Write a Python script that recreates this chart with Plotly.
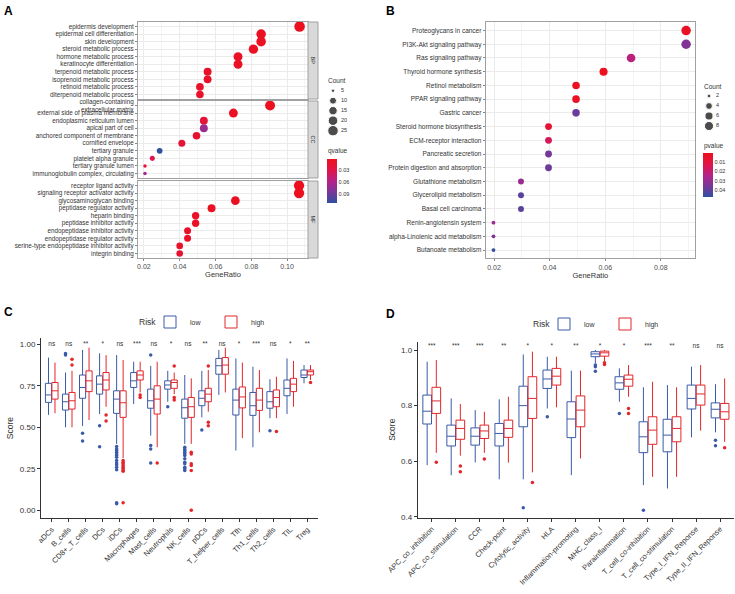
import numpy as np
import plotly.graph_objects as go

W, H = 735, 594
FONT = 'Liberation Sans, Arial, sans-serif'

# ---------------- panel A: GO enrichment ----------------
bp_terms = ['epidermis development', 'epidermal cell differentiation', 'skin development',
            'steroid metabolic process', 'hormone metabolic process', 'keratinocyte differentiation',
            'terpenoid metabolic process', 'isoprenoid metabolic process', 'retinoid metabolic process',
            'diterpenoid metabolic process']
bp_ratio = [0.107, 0.0855, 0.0855, 0.0812, 0.0726, 0.0726, 0.0556, 0.0556, 0.0513, 0.0513]
bp_count = [25, 20, 20, 19, 17, 17, 13, 13, 12, 12]
bp_q = [0.0005, 0.003, 0.004, 0.005, 0.006, 0.008, 0.01, 0.01, 0.012, 0.012]

cc_terms = ['collagen-containing<br>extracellular matrix', 'external side of plasma membrane',
            'endoplasmic reticulum lumen', 'apical part of cell', 'anchored component of membrane',
            'cornified envelope', 'tertiary granule', 'platelet alpha granule', 'tertiary granule lumen',
            'immunoglobulin complex, circulating']
cc_ratio = [0.0905, 0.07, 0.0535, 0.0535, 0.0494, 0.0412, 0.0288, 0.0247, 0.0206, 0.0206]
cc_count = [22, 17, 13, 13, 12, 10, 7, 6, 5, 5]
cc_q = [0.001, 0.005, 0.02, 0.07, 0.015, 0.02, 0.113, 0.032, 0.02, 0.065]

mf_terms = ['receptor ligand activity', 'signaling receptor activator activity', 'glycosaminoglycan binding',
            'peptidase regulator activity', 'heparin binding', 'peptidase inhibitor activity',
            'endopeptidase inhibitor activity', 'endopeptidase regulator activity',
            'serine-type endopeptidase inhibitor activity', 'integrin binding']
mf_ratio = [0.1067, 0.1067, 0.0711, 0.0578, 0.0489, 0.0489, 0.0444, 0.0444, 0.04, 0.04]
mf_count = [24, 24, 16, 13, 11, 11, 10, 10, 9, 9]
mf_q = [0.0005, 0.0005, 0.003, 0.005, 0.008, 0.008, 0.01, 0.01, 0.012, 0.015]

go_facets = ['BP', 'CC', 'MF']
count_breaks_a = [5, 10, 15, 20, 25]
q_ticks = [0.03, 0.06, 0.09]

# ---------------- panel B: KEGG enrichment ----------------
kegg_terms = ['Proteoglycans in cancer', 'PI3K-Akt signaling pathway', 'Ras signaling pathway',
              'Thyroid hormone synthesis', 'Retinol metabolism', 'PPAR signaling pathway', 'Gastric cancer',
              'Steroid hormone biosynthesis', 'ECM-receptor interaction', 'Pancreatic secretion',
              'Protein digestion and absorption', 'Glutathione metabolism', 'Glycerolipid metabolism',
              'Basal cell carcinoma', 'Renin-angiotensin system', 'alpha-Linolenic acid metabolism',
              'Butanoate metabolism']
kegg_ratio = [0.0891, 0.0891, 0.0693, 0.0594, 0.0495, 0.0495, 0.0495, 0.0396, 0.0396, 0.0396, 0.0396,
              0.0297, 0.0297, 0.0297, 0.0198, 0.0198, 0.0198]
kegg_count = [9, 9, 7, 6, 5, 5, 5, 4, 4, 4, 4, 3, 3, 3, 2, 2, 2]
kegg_p = [0.003, 0.034, 0.022, 0.0005, 0.002, 0.002, 0.038, 0.007, 0.016, 0.036, 0.038, 0.029, 0.041,
          0.041, 0.029, 0.034, 0.0475]
count_breaks_b = [2, 4, 6, 8]
p_ticks = [0.01, 0.02, 0.03, 0.04]

# ---------------- panel C: immune cells ----------------
c_cells = ['aDCs', 'B_cells', 'CD8+_T_cells', 'DCs', 'iDCs', 'Macrophages', 'Mast_cells', 'Neutrophils',
           'NK_cells', 'pDCs', 'T_helper_cells', 'Tfh', 'Th1_cells', 'Th2_cells', 'TIL', 'Treg']
c_sig = ['ns', 'ns', '**', '*', 'ns', '***', 'ns', '*', 'ns', '**', 'ns', '*', '***', 'ns', '*', '**']
c_low_q1 = [0.65, 0.604, 0.675, 0.70, 0.584, 0.74, 0.615, 0.73, 0.555, 0.63, 0.82, 0.574, 0.572, 0.615, 0.69, 0.80]
c_low_med = [0.695, 0.654, 0.74, 0.76, 0.67, 0.78, 0.66, 0.755, 0.618, 0.675, 0.871, 0.664, 0.63, 0.654, 0.735, 0.815]
c_low_q3 = [0.765, 0.70, 0.815, 0.81, 0.72, 0.83, 0.73, 0.78, 0.67, 0.72, 0.915, 0.73, 0.71, 0.715, 0.785, 0.845]
c_low_lo = [0.575, 0.50, 0.508, 0.58, 0.40, 0.64, 0.45, 0.654, 0.40, 0.56, 0.695, 0.36, 0.38, 0.555, 0.58, 0.765]
c_low_hi = [0.92, 0.83, 0.966, 0.946, 0.935, 0.895, 0.87, 0.84, 0.815, 0.84, 0.966, 0.915, 0.865, 0.79, 0.915, 0.875]
c_low_out = [[], [0.945, 0.935], [0.464, 0.417], [0.51, 0.383],
             [0.385, 0.37, 0.36, 0.35, 0.34, 0.33, 0.32, 0.30, 0.285, 0.275, 0.26, 0.245, 0.045, 0.04],
             [], [0.935, 0.39, 0.37, 0.285], [0.624],
             [0.38, 0.37, 0.36, 0.35, 0.34, 0.33, 0.31, 0.29, 0.28, 0.26, 0.25, 0.24],
             [0.484], [], [], [], [0.48], [], []]
c_high_q1 = [0.67, 0.61, 0.715, 0.725, 0.56, 0.785, 0.58, 0.735, 0.56, 0.654, 0.82, 0.617, 0.602, 0.624, 0.715, 0.815]
c_high_med = [0.72, 0.66, 0.78, 0.785, 0.648, 0.815, 0.67, 0.77, 0.624, 0.70, 0.875, 0.683, 0.664, 0.68, 0.76, 0.835]
c_high_q3 = [0.77, 0.71, 0.84, 0.83, 0.72, 0.84, 0.75, 0.785, 0.68, 0.735, 0.92, 0.743, 0.735, 0.725, 0.795, 0.845]
c_high_lo = [0.585, 0.50, 0.544, 0.624, 0.315, 0.71, 0.38, 0.70, 0.40, 0.594, 0.71, 0.435, 0.47, 0.555, 0.624, 0.785]
c_high_hi = [0.89, 0.84, 0.98, 0.935, 0.905, 0.895, 0.895, 0.83, 0.795, 0.845, 0.98, 0.89, 0.845, 0.805, 0.90, 0.875]
c_high_out = [[], [0.91, 0.875], [], [0.574, 0.538],
              [0.30, 0.29, 0.28, 0.27, 0.26, 0.25, 0.24, 0.235, 0.045],
              [0.695, 0.68], [0.285], [0.87, 0.68, 0.665],
              [0.35, 0.34, 0.28, 0.27, 0.24, 0.0],
              [0.87, 0.53, 0.51], [], [], [], [0.475], [], [0.77]]

# ---------------- panel D: immune functions ----------------
d_funcs = ['APC_co_inhibition', 'APC_co_stimulation', 'CCR', 'Check-point', 'Cytolytic_activity', 'HLA',
           'Inflammation-promoting', 'MHC_class_I', 'Parainflammation', 'T_cell_co-inhibition',
           'T_cell_co-stimulation', 'Type_I_IFN_Reponse', 'Type_II_IFN_Reponse']
d_sig = ['***', '***', '***', '**', '*', '*', '**', '*', '*', '***', '**', 'ns', 'ns']
d_low_q1 = [0.734, 0.655, 0.658, 0.655, 0.724, 0.862, 0.685, 0.976, 0.859, 0.631, 0.634, 0.788, 0.756]
d_low_med = [0.78, 0.69, 0.69, 0.70, 0.80, 0.896, 0.752, 0.986, 0.882, 0.688, 0.694, 0.826, 0.787]
d_low_q3 = [0.838, 0.73, 0.72, 0.736, 0.87, 0.928, 0.814, 0.994, 0.904, 0.742, 0.751, 0.874, 0.81]
d_low_lo = [0.586, 0.55, 0.596, 0.535, 0.535, 0.79, 0.55, 0.952, 0.814, 0.514, 0.502, 0.686, 0.704]
d_low_hi = [0.958, 0.826, 0.784, 0.823, 0.984, 0.976, 0.926, 1.0, 0.934, 0.866, 0.874, 0.94, 0.877]
d_low_out = [[], [], [], [], [0.433], [0.76], [], [0.946, 0.94, 0.924], [0.772], [0.424], [], [], [0.676, 0.656]]
d_high_q1 = [0.772, 0.679, 0.682, 0.686, 0.754, 0.874, 0.724, 0.978, 0.87, 0.661, 0.67, 0.802, 0.751]
d_high_med = [0.817, 0.718, 0.709, 0.718, 0.826, 0.906, 0.784, 0.99, 0.895, 0.712, 0.718, 0.842, 0.778]
d_high_q3 = [0.866, 0.748, 0.73, 0.748, 0.904, 0.934, 0.835, 0.996, 0.91, 0.76, 0.76, 0.874, 0.808]
d_high_lo = [0.63, 0.62, 0.63, 0.595, 0.56, 0.794, 0.61, 0.96, 0.832, 0.544, 0.544, 0.71, 0.67]
d_high_hi = [0.964, 0.806, 0.778, 0.832, 0.994, 0.976, 0.926, 1.0, 0.946, 0.886, 0.866, 0.946, 0.898]
d_high_out = [[0.596], [0.583, 0.562], [0.608], [], [0.524], [], [], [0.954, 0.948], [0.79, 0.772], [], [], [],
              [0.649]]

LOW_COL = '#3A5BA7'
HIGH_COL = '#E3262B'
CSCALE = [[0, '#2F4F9F'], [0.2, '#6B3C9A'], [0.47, '#B0248C'], [0.74, '#E0154A'], [0.88, '#E8122D'],
          [1, '#EC101E']]


def fx(p):
    return p / W


def fy(p):
    return 1 - p / H


def dot_size(counts, cmin, cmax, dmin, dmax):
    t = (np.asarray(counts, float) - cmin) / (cmax - cmin)
    return dmin + np.sqrt(np.clip(t, 0, 1)) * (dmax - dmin)


fig = go.Figure()
layout = dict(template='none', width=W, height=H, margin=dict(l=0, r=0, t=0, b=0, pad=0),
              plot_bgcolor='white', paper_bgcolor='white', font=dict(family=FONT, color='#333333'),
              showlegend=True)
shapes, annotations = [], []


def note(text, px, py, size, anchor='left', **kw):
    annotations.append(dict(x=fx(px), y=fy(py), xref='paper', yref='paper', text=text, showarrow=False,
                            xanchor=anchor, yanchor='middle', font=dict(size=size, color='#333'), **kw))


# ---- A ----
a_all_q = bp_q + cc_q + mf_q
a_rows = [(bp_terms, bp_ratio, bp_count, bp_q, 22, 99),
          (cc_terms, cc_ratio, cc_count, cc_q, 101, 178),
          (mf_terms, mf_ratio, mf_count, mf_q, 181, 258)]
for k, (terms, ratio, count, q, top, bot) in enumerate(a_rows, start=1):
    fig.add_scatter(x=ratio, y=terms, mode='markers', xaxis=f'x{k}', yaxis=f'y{k}', showlegend=False,
                    marker=dict(size=dot_size(count, 5, 25, 3.5, 10.5), color=[-v for v in q],
                                coloraxis='coloraxis', opacity=1, line=dict(width=0)))
    last = k == 3
    layout[f'xaxis{k}'] = dict(domain=[fx(138), fx(308)], anchor=f'y{k}', range=[0.0167, 0.1117],
                               tick0=0.02, dtick=0.02, tickformat='.2f', showticklabels=last,
                               ticks='outside' if last else '', ticklen=2, tickcolor='#888',
                               tickfont=dict(size=7, color='#4d4d4d'), showgrid=True, gridcolor='#ebebeb',
                               minor=dict(dtick=0.01, showgrid=True, gridcolor='#f4f4f4'),
                               showline=True, mirror=True, linecolor='#a0a0a0', zeroline=False,
                               automargin=False,
                               title=dict(text='GeneRatio' if last else '', font=dict(size=7.5), standoff=2))
    layout[f'yaxis{k}'] = dict(domain=[fy(bot), fy(top)], anchor=f'x{k}', type='category',
                               categoryorder='array', categoryarray=terms[::-1],
                               tickmode='array', tickvals=terms, ticktext=terms,
                               range=[-0.6, len(terms) - 0.4], ticks='outside', ticklen=2, tickcolor='#888',
                               tickfont=dict(size=6.3, color='#333'), showgrid=True, gridcolor='#ebebeb',
                               showline=True, mirror=True, linecolor='#a0a0a0', zeroline=False,
                               automargin=False)
    shapes.append(dict(type='rect', xref='paper', yref='paper', x0=fx(308), x1=fx(318), y0=fy(bot), y1=fy(top),
                       fillcolor='#d9d9d9', line=dict(color='#a0a0a0', width=1)))
    note(go_facets[k - 1], 313, (top + bot) / 2, 5.5, anchor='center', textangle=90)

layout['coloraxis'] = dict(colorscale=CSCALE, cmin=-max(a_all_q), cmax=-min(a_all_q),
                           colorbar=dict(x=fx(327), xanchor='left', y=fy(181), yanchor='middle', len=44,
                                         lenmode='pixels', thickness=10, xpad=0, ypad=0, outlinewidth=0,
                                         tickvals=[-v for v in q_ticks], ticktext=[f'{v:.2f}' for v in q_ticks],
                                         tickfont=dict(size=5.5, color='#333'), ticks=''))
note('qvalue', 326, 151, 6.5)
note('Count', 326, 80, 6.5)
fig.add_scatter(x=[6] * len(count_breaks_a), y=list(range(len(count_breaks_a))), mode='markers',
                xaxis='x4', yaxis='y4', showlegend=False,
                marker=dict(size=dot_size(count_breaks_a, 5, 25, 3.5, 10.5), color='black'))
fig.add_scatter(x=[14] * len(count_breaks_a), y=list(range(len(count_breaks_a))), mode='text',
                text=[str(c) for c in count_breaks_a], textposition='middle right', xaxis='x4', yaxis='y4',
                showlegend=False, textfont=dict(size=5.5, color='#333'))
layout['xaxis4'] = dict(domain=[fx(327), fx(360)], range=[0, 33], visible=False, anchor='y4')
layout['yaxis4'] = dict(domain=[fy(135.7), fy(85.7)], range=[4.5, -0.5], visible=False, anchor='x4')

# ---- B ----
fig.add_scatter(x=kegg_ratio, y=kegg_terms, mode='markers', xaxis='x5', yaxis='y5', showlegend=False,
                marker=dict(size=dot_size(kegg_count, 2, 9, 3.8, 9.5), color=[-v for v in kegg_p],
                            coloraxis='coloraxis2', opacity=1, line=dict(width=0)))
layout['xaxis5'] = dict(domain=[fx(485.7), fx(695)], anchor='y5', range=[0.017, 0.0923], tick0=0.02, dtick=0.02,
                        tickformat='.2f', ticks='outside', ticklen=2, tickcolor='#888',
                        tickfont=dict(size=7, color='#4d4d4d'), showgrid=True, gridcolor='#ebebeb',
                        minor=dict(dtick=0.01, showgrid=True, gridcolor='#f4f4f4'),
                        showline=True, mirror=True, linecolor='#a0a0a0', zeroline=False, automargin=False,
                        title=dict(text='GeneRatio', font=dict(size=7.5), standoff=2))
layout['yaxis5'] = dict(domain=[fy(258.3), fy(22.3)], anchor='x5', type='category', categoryorder='array',
                        categoryarray=kegg_terms[::-1], tickmode='array', tickvals=kegg_terms, ticktext=kegg_terms,
                        range=[-0.6, len(kegg_terms) - 0.4], ticks='outside',
                        ticklen=2, tickcolor='#888', tickfont=dict(size=6.5, color='#333'), showgrid=True,
                        gridcolor='#ebebeb', showline=True, mirror=True, linecolor='#a0a0a0', zeroline=False,
                        automargin=False)
layout['coloraxis2'] = dict(colorscale=CSCALE, cmin=-max(kegg_p), cmax=-min(kegg_p),
                            colorbar=dict(x=fx(703.3), xanchor='left', y=fy(175), yanchor='middle', len=44,
                                          lenmode='pixels', thickness=9.5, xpad=0, ypad=0, outlinewidth=0,
                                          tickvals=[-v for v in p_ticks],
                                          ticktext=[f'{v:.2f}' for v in p_ticks],
                                          tickfont=dict(size=5.5, color='#333'), ticks=''))
note('pvalue', 702, 146, 6.5)
note('Count', 702, 86, 6.5)
fig.add_scatter(x=[6] * len(count_breaks_b), y=list(range(len(count_breaks_b))), mode='markers',
                xaxis='x6', yaxis='y6', showlegend=False,
                marker=dict(size=dot_size(count_breaks_b, 2, 9, 3.8, 9.5), color='black'))
fig.add_scatter(x=[13] * len(count_breaks_b), y=list(range(len(count_breaks_b))), mode='text',
                text=[str(c) for c in count_breaks_b], textposition='middle right', xaxis='x6', yaxis='y6',
                showlegend=False, textfont=dict(size=5.5, color='#333'))
layout['xaxis6'] = dict(domain=[fx(703), fx(735)], range=[0, 32], visible=False, anchor='y6')
layout['yaxis6'] = dict(domain=[fy(131), fy(91)], range=[3.5, -0.5], visible=False, anchor='x6')


# ---- C & D boxplots ----
def add_boxes(xa, ya, legend, n, groups, sig, sig_y, width, off):
    for name, col, q1, med, q3, lo, hi, outs, sgn in groups:
        xs = [i + sgn * off for i in range(n)]
        fig.add_trace(go.Box(x=xs, q1=q1, median=med, q3=q3, lowerfence=lo, upperfence=hi, width=width,
                             name=name, legend=legend, xaxis=xa, yaxis=ya, fillcolor='white',
                             line=dict(color=col, width=1), whiskerwidth=0, boxpoints=False))
        ox, oy = [], []
        for i, vals in enumerate(outs):
            ox += [i + sgn * off] * len(vals)
            oy += vals
        fig.add_scatter(x=ox, y=oy, mode='markers', xaxis=xa, yaxis=ya, showlegend=False,
                        marker=dict(size=3.5, color=col))
    fig.add_scatter(x=list(range(n)), y=[sig_y] * n, mode='text', text=sig, xaxis=xa, yaxis=ya,
                    showlegend=False, textfont=dict(size=6.5, color='#333'))


add_boxes('x7', 'y7', 'legend2', len(c_cells),
          [('low', LOW_COL, c_low_q1, c_low_med, c_low_q3, c_low_lo, c_low_hi, c_low_out, -1),
           ('high', HIGH_COL, c_high_q1, c_high_med, c_high_q3, c_high_lo, c_high_hi, c_high_out, 1)],
          c_sig, 1.0, 0.36, 0.19)
add_boxes('x8', 'y8', 'legend3', len(d_funcs),
          [('low', LOW_COL, d_low_q1, d_low_med, d_low_q3, d_low_lo, d_low_hi, d_low_out, -1),
           ('high', HIGH_COL, d_high_q1, d_high_med, d_high_q3, d_high_lo, d_high_hi, d_high_out, 1)],
          d_sig, 1.012, 0.36, 0.19)

box_x = dict(showline=True, linecolor='#333', linewidth=1, ticks='outside', ticklen=3, tickcolor='#333',
             tickangle=-45, showgrid=False, zeroline=False, tickfont=dict(size=7.5, color='#333'),
             automargin=False)
box_y = dict(showline=True, linecolor='#333', linewidth=1, ticks='outside', ticklen=3, tickcolor='#333',
             showgrid=False, zeroline=False, tickfont=dict(size=8, color='#333'), automargin=False,
             title=dict(text='Score', font=dict(size=8.5), standoff=4))
layout['xaxis7'] = dict(box_x, domain=[fx(41), fx(318)], anchor='y7', range=[-0.63, len(c_cells) - 0.37],
                        tickmode='array', tickvals=list(range(len(c_cells))), ticktext=c_cells)
layout['yaxis7'] = dict(box_y, domain=[fy(518.3), fy(338)], anchor='x7', range=[-0.048, 1.038],
                        tick0=0, dtick=0.25, tickformat='.2f')
layout['xaxis8'] = dict(box_x, domain=[fx(417.8), fx(734)], anchor='y8', range=[-0.58, len(d_funcs) - 0.42],
                        tickmode='array', tickvals=list(range(len(d_funcs))), ticktext=d_funcs)
layout['yaxis8'] = dict(box_y, domain=[fy(517.7), fy(341.7)], anchor='x8', range=[0.397, 1.03],
                        tick0=0.4, dtick=0.2, tickformat='.1f')

leg = dict(orientation='h', xanchor='left', yanchor='middle', bgcolor='rgba(0,0,0,0)',
           font=dict(size=7, color='#333'), itemwidth=30, entrywidth=16, tracegroupgap=0)
layout['legend2'] = dict(leg, x=fx(150), y=fy(322))
layout['legend3'] = dict(leg, x=fx(544), y=fy(324))
note('Risk', 158, 322, 8.5, anchor='right')
note('Risk', 552, 324, 8.5, anchor='right')

for lab, px, py in [('A', 2, 11), ('B', 384, 11), ('C', 2, 312), ('D', 384, 314)]:
    annotations.append(dict(x=fx(px), y=fy(py), xref='paper', yref='paper', text=f'<b>{lab}</b>',
                            showarrow=False, xanchor='left', yanchor='middle', font=dict(size=12, color='black')))

layout['shapes'] = shapes
layout['annotations'] = annotations
fig.update_layout(**layout)
fig.write_html('out.html', config={'displayModeBar': False},
               post_script="document.body.style.margin='0px';")
